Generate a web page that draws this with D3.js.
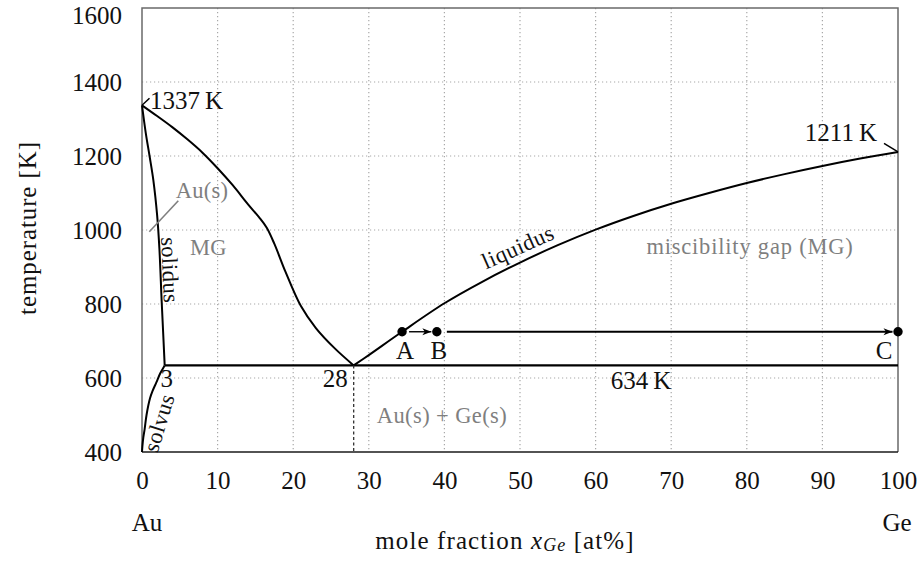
<!DOCTYPE html>
<html>
<head>
<meta charset="utf-8">
<script src="https://cdn.jsdelivr.net/npm/d3@7"></script>
<style>
  html, body { margin: 0; padding: 0; background: #fff; }
  svg text { font-family: "Liberation Serif", "DejaVu Serif", serif; }
</style>
</head>
<body>
<svg id="chart" width="920" height="561"></svg>
<script>
// ---- data: Au–Ge binary phase diagram ----
const xTicks = [0, 10, 20, 30, 40, 50, 60, 70, 80, 90, 100];
const yTicks = [400, 600, 800, 1000, 1200, 1400, 1600];

const meltAu = 1337;          // K
const meltGe = 1211;          // K
const eutecticT = 634;        // K
const eutecticX = 28;         // at% Ge
const solubilityX = 3;        // max. Ge solubility in Au(s), at%

// liquidus, Au-rich branch  [x_Ge, T]
const liquidusAu = [
  [0, 1337], [2, 1308], [4, 1278], [6, 1245], [8, 1209], [10, 1167],
  [12, 1121], [14, 1070], [15.5, 1034], [16.5, 1006], [17.5, 963],
  [19, 886], [21, 795], [23, 735], [25.5, 680], [28, 634]
];
// liquidus, Ge-rich branch
const liquidusGe = [
  [28, 634], [30, 662], [34.4, 725], [40, 802], [45, 860], [50, 912],
  [55, 959], [60, 1001], [65, 1038], [70, 1071], [75, 1100], [80, 1127],
  [85, 1151], [90, 1173], [95, 1193], [100, 1211]
];
// solidus of Au(s)
const solidus = [
  [0, 1337], [0.5, 1262], [1, 1200], [1.5, 1135], [2, 1040], [2.3, 950],
  [2.6, 808], [2.85, 700], [3, 634]
];
// solvus of Au(s)
const solvus = [
  [3, 634], [2.4, 612], [1.9, 588], [1.4, 565], [1.06, 545], [0.6, 500],
  [0.35, 462], [0.18, 440], [0.05, 415], [0, 400]
];
// cooling path points
const pathNames = ["A", "B", "C"];
const pathX = [34.4, 39, 100];
const pathT = 725;

// ---- layout ----
const svg = d3.select("#chart");
const x = d3.scaleLinear().domain([0, 100]).range([142, 898]);
const y = d3.scaleLinear().domain([400, 1600]).range([452, 8]);

const FONT = '"Liberation Serif", "DejaVu Serif", serif';
const FS = 25;      // main text size
const FSs = 22.5;   // smaller text size
const grey = "#7f7f7f";

// dotted grid
const grid = svg.append("g");
grid.selectAll("line.gx")
  .data(xTicks.filter(v => v > 0 && v < 100))
  .join("line")
  .attr("x1", d => x(d)).attr("x2", d => x(d))
  .attr("y1", y(1600)).attr("y2", y(400))
  .attr("stroke", "#a8a8a8").attr("stroke-width", 1.2)
  .attr("stroke-dasharray", "1.2 2.8");
grid.selectAll("line.gy")
  .data(yTicks.filter(v => v > 400 && v < 1600))
  .join("line")
  .attr("x1", x(0)).attr("x2", x(100))
  .attr("y1", d => y(d)).attr("y2", d => y(d))
  .attr("stroke", "#a8a8a8").attr("stroke-width", 1.2)
  .attr("stroke-dasharray", "1.2 2.8");

// frame
const frame = svg.append("g").attr("fill", "none");
frame.append("path")
  .attr("d", `M${x(0)},${y(400)}V${y(1600)}H${x(100)}V${y(400)}`)
  .attr("stroke", "#6a6a6a").attr("stroke-width", 1.5);
frame.append("line")
  .attr("x1", x(0)).attr("x2", x(100)).attr("y1", y(400)).attr("y2", y(400))
  .attr("stroke", "#1a1a1a").attr("stroke-width", 1.6);

// axes (labels only)
const xAxis = svg.append("g")
  .attr("transform", `translate(0,${y(400)})`)
  .call(d3.axisBottom(x).tickValues(xTicks).tickSize(0).tickPadding(19).tickFormat(d3.format("d")));
const yAxis = svg.append("g")
  .attr("transform", `translate(${x(0)},0)`)
  .call(d3.axisLeft(y).tickValues(yTicks).tickSize(0).tickPadding(20).tickFormat(d3.format("d")));
[xAxis, yAxis].forEach(g => {
  g.attr("font-family", null);
  g.select(".domain").remove();
  g.selectAll("text")
    .style("font-family", FONT)
    .attr("font-size", FS).attr("fill", "#111");
});
yAxis.selectAll(".tick").filter(d => d === 1600).select("text").attr("dy", "0.6em");

// phase boundaries
const smooth = d3.line().x(d => x(d[0])).y(d => y(d[1])).curve(d3.curveCatmullRom.alpha(0.5));
const curves = svg.append("g").attr("fill", "none").attr("stroke", "#000")
  .attr("stroke-width", 2).attr("stroke-linejoin", "round");
[liquidusAu, liquidusGe, solidus, solvus].forEach(c => curves.append("path").attr("d", smooth(c)));

// eutectic horizontal
curves.append("line")
  .attr("x1", x(solubilityX)).attr("x2", x(100))
  .attr("y1", y(eutecticT)).attr("y2", y(eutecticT))
  .attr("stroke-width", 2.2);
// eutectic composition, dashed
svg.append("line")
  .attr("x1", x(eutecticX)).attr("x2", x(eutecticX))
  .attr("y1", y(eutecticT)).attr("y2", y(400))
  .attr("stroke", "#333").attr("stroke-width", 1.3).attr("stroke-dasharray", "3 2.5");

// arrow marker
const defs = svg.append("defs");
defs.append("marker").attr("id", "stealth")
  .attr("markerUnits", "userSpaceOnUse")
  .attr("viewBox", "-10 -5 12 10").attr("refX", 0).attr("refY", 0)
  .attr("markerWidth", 12).attr("markerHeight", 10).attr("orient", "auto")
  .append("path").attr("d", "M0,0L-9,-3.4L-6.5,0L-9,3.4Z").attr("fill", "#000");

// cooling path A -> B -> C
svg.append("line")
  .attr("x1", x(pathX[0]) + 7).attr("x2", x(pathX[1]) - 5.5)
  .attr("y1", y(pathT)).attr("y2", y(pathT))
  .attr("stroke", "#000").attr("stroke-width", 1.4).attr("marker-end", "url(#stealth)");
svg.append("line")
  .attr("x1", x(pathX[1]) + 10).attr("x2", x(pathX[2]) - 5.5)
  .attr("y1", y(pathT)).attr("y2", y(pathT))
  .attr("stroke", "#000").attr("stroke-width", 2).attr("marker-end", "url(#stealth)");
svg.append("g").selectAll("circle")
  .data(pathX).join("circle")
  .attr("cx", d => x(d)).attr("cy", y(pathT)).attr("r", 4.7).attr("fill", "#000");

// text helper
function label(txt, px, py, opts = {}) {
  const t = svg.append("text")
    .attr("x", px).attr("y", py)
    .style("font-family", FONT)
    .attr("font-size", opts.size || FS)
    .attr("fill", opts.fill || "#111")
    .attr("text-anchor", opts.anchor || "middle")
    .attr("dominant-baseline", "central")
    .attr("letter-spacing", opts.ls || 0)
    .text(txt);
  if (opts.rotate !== undefined) t.attr("transform", `rotate(${opts.rotate},${px},${py})`);
  return t;
}

// path point names
const nameDx = [3, 2, -14];
pathNames.forEach((n, i) => label(n, x(pathX[i]) + nameDx[i], y(pathT) + 19));

// melting points with pins
svg.append("line")
  .attr("x1", x(0)).attr("y1", y(meltAu)).attr("x2", x(0) + 7.5).attr("y2", y(meltAu) - 7)
  .attr("stroke", "#000").attr("stroke-width", 1.5);
label("1337\u2009K", x(0) + 8, y(meltAu) - 5, { anchor: "start" });
svg.append("line")
  .attr("x1", x(100) - 14).attr("y1", y(meltGe) - 8.5).attr("x2", x(100)).attr("y2", y(meltGe))
  .attr("stroke", "#000").attr("stroke-width", 1.5);
label("1211\u2009K", x(100) - 21, y(meltGe) - 19, { anchor: "end" });

// eutectic annotations
label(String(solubilityX), x(solubilityX) + 2, y(eutecticT) + 13);
label(String(eutecticX), x(eutecticX) - 6, y(eutecticT) + 13, { anchor: "end" });
label(eutecticT + "\u2009K", x(66), y(eutecticT) + 15);

// region and curve names
svg.append("line")
  .attr("x1", 149.3).attr("y1", 231.7).attr("x2", 178.3).attr("y2", 200.7)
  .attr("stroke", grey).attr("stroke-width", 1.6);
label("Au(s)", 202, 190, { size: FSs, fill: grey, ls: 0.3 });
label("MG", 208.5, 247, { size: FSs, fill: grey, ls: 0.3 });
label("miscibility gap (MG)", 750, 246, { size: FSs, fill: grey, ls: 0.8 });
label("Au(s) + Ge(s)", 442, 415, { size: FSs, fill: grey, ls: 0.4 });
label("liquidus", 518, 247, { size: FSs, rotate: -24, ls: 0.5 });
label("solidus", 170, 270, { size: FSs, rotate: 87.5, ls: 0.3 });
label("solvus", 159, 423, { size: FSs, rotate: -73, ls: 0.3 });

// axis titles
label("temperature [K]", 27, 228, { rotate: -90, ls: 0.9 });
label("Au", 147, 522);
label("Ge", 897, 522);
const xt = svg.append("text")
  .attr("x", 505).attr("y", 540).attr("text-anchor", "middle")
  .attr("dominant-baseline", "central")
  .style("font-family", FONT)
  .attr("font-size", FS).attr("fill", "#111").attr("letter-spacing", 1.1);
xt.append("tspan").text("mole fraction ");
xt.append("tspan").attr("font-style", "italic").text("x");
xt.append("tspan").attr("font-style", "italic").attr("font-size", FS * 0.72).attr("dy", 5).text("Ge");
xt.append("tspan").attr("dy", -5).text(" [at%]");
</script>
</body>
</html>
